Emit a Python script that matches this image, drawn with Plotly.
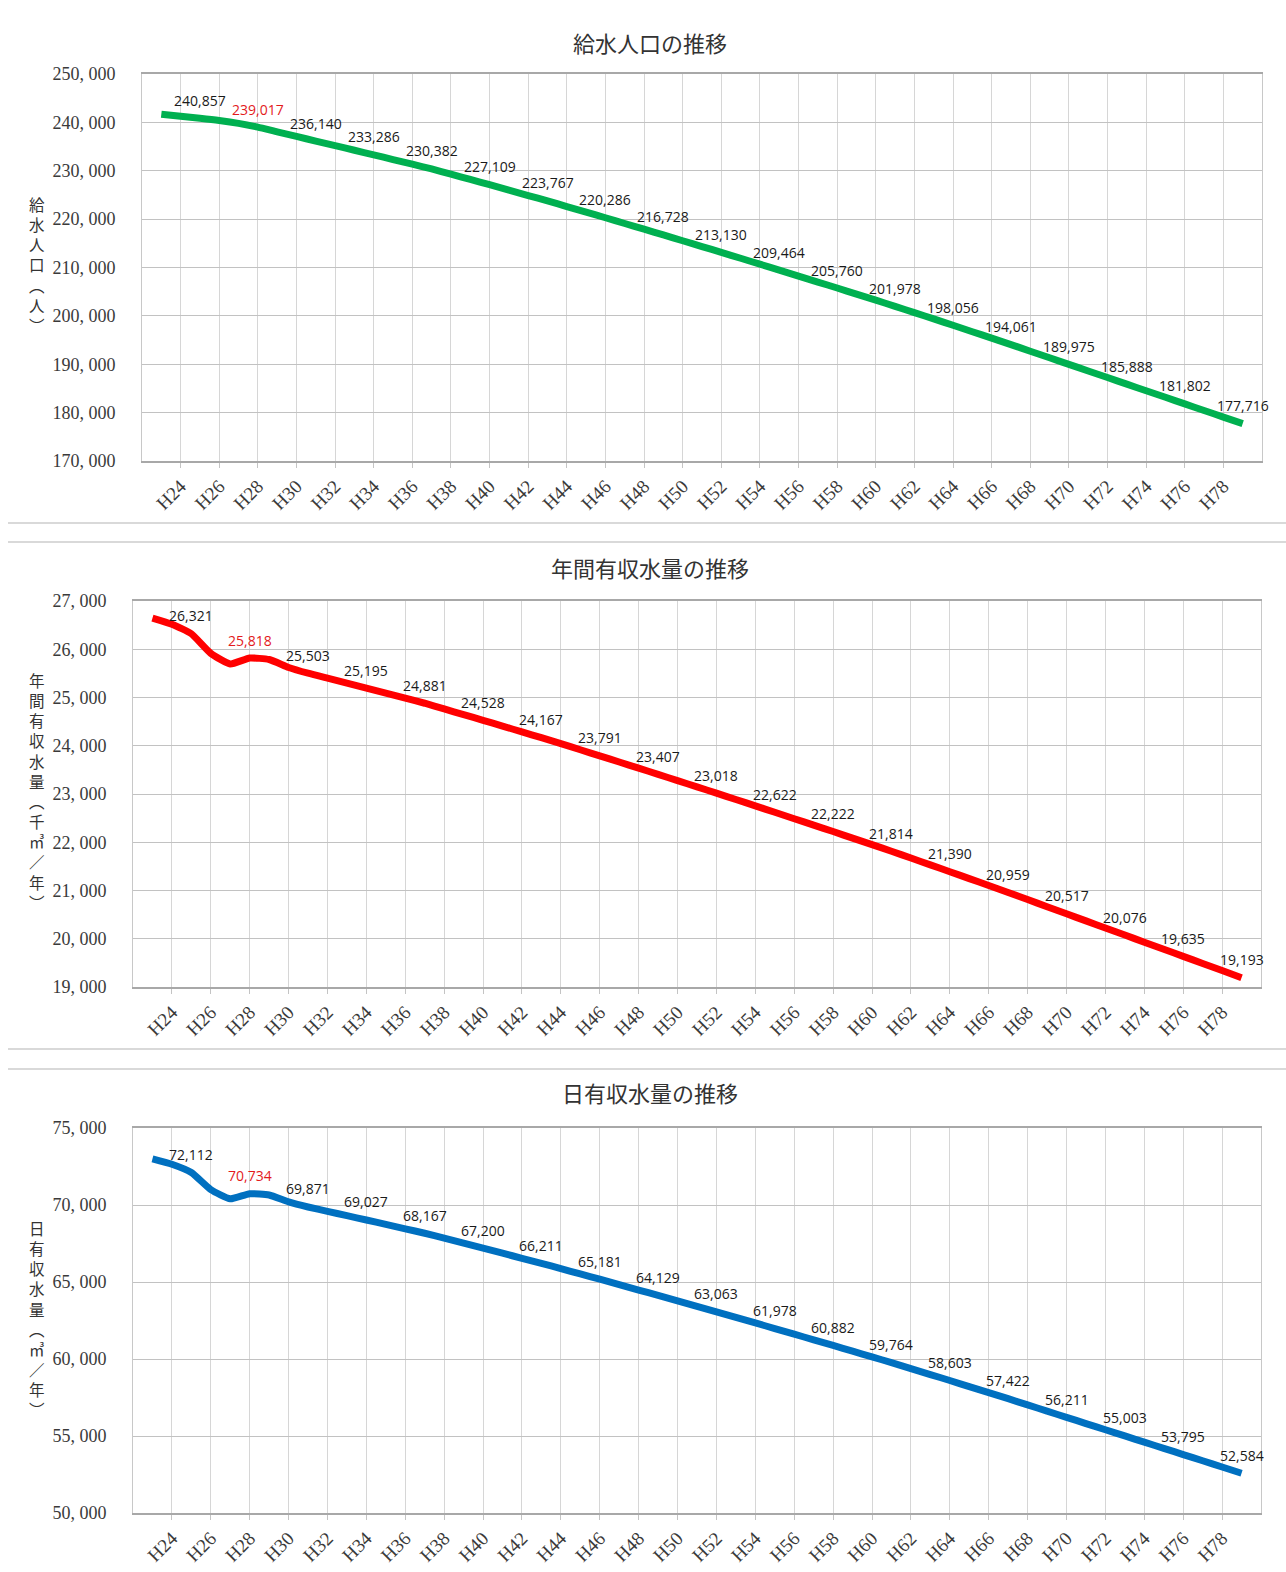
import plotly.graph_objects as go

# ---- data -------------------------------------------------------------
years = list(range(23, 80))  # H23 ... H79

# 給水人口 (人)
population = [
    241700, 241250, 240857, 240400, 239800, 239017, 238050, 237100, 236140,
    235190, 234240, 233286, 232320, 231350, 230382, 229290, 228200, 227109,
    225995, 224880, 223767, 222605, 221445, 220286, 219100, 217915, 216728,
    215530, 214330, 213130, 211910, 210685, 209464, 208230, 206995, 205760,
    204500, 203240, 201978, 200670, 199365, 198056, 196725, 195395, 194061,
    192700, 191335, 189975, 188612, 187250, 185888, 184525, 183165, 181802,
    180440, 179078, 177716,
]

# 年間有収水量 (千㎥/年)
annual_volume = [
    26645, 26517, 26321, 25915, 25696, 25818, 25787, 25623, 25503,
    25400, 25298, 25195, 25090, 24986, 24881, 24763, 24645, 24528,
    24408, 24287, 24167, 24043, 23917, 23791, 23663, 23535, 23407,
    23278, 23148, 23018, 22886, 22754, 22622, 22488, 22355, 22222,
    22086, 21950, 21814, 21673, 21531, 21390, 21247, 21103, 20959,
    20812, 20664, 20517, 20370, 20223, 20076, 19929, 19782, 19635,
    19488, 19341, 19193,
]

# 日有収水量 (㎥/年)
daily_volume = [
    73000, 72650, 72112, 71000, 70400, 70734, 70650, 70200, 69871,
    69590, 69310, 69027, 68740, 68455, 68167, 67845, 67520, 67200,
    66870, 66540, 66211, 65870, 65525, 65181, 64830, 64480, 64129,
    63775, 63420, 63063, 62700, 62340, 61978, 61612, 61247, 60882,
    60510, 60137, 59764, 59377, 58990, 58603, 58210, 57816, 57422,
    57018, 56615, 56211, 55808, 55406, 55003, 54600, 54198, 53795,
    53392, 52988, 52584,
]

label_years = list(range(25, 80, 3))   # years carrying a value label
highlight_year = 28                    # value label drawn in red

tick_years = list(range(24, 79, 2))
tick_text = [f"H{y}" for y in tick_years]

pop_ticks = list(range(170000, 250001, 10000))
annual_ticks = list(range(19000, 27001, 1000))
daily_ticks = list(range(50000, 75001, 5000))

# ---- page geometry (pixels) -------------------------------------------
W, H = 1286, 1572


def fx(px):
    return px / W


def fy(py):
    return 1 - py / H


def fmt_tick(v):
    return f"{v:,}".replace(",", ", ")


panels = [
    dict(title="給水人口の推移", title_y=42,
         ytitle="給水人口︵人︶", ytitle_y=264,
         values=population, color="#00b050", ticks=pop_ticks,
         left=142, right=1262, top=74, bottom=461),
    dict(title="年間有収水量の推移", title_y=567,
         ytitle="年間有収水量︵千㎥／年︶", ytitle_y=791,
         values=annual_volume, color="#ff0000", ticks=annual_ticks,
         left=133, right=1261, top=601, bottom=987),
    dict(title="日有収水量の推移", title_y=1092,
         ytitle="日有収水量︵㎥／年︶", ytitle_y=1318,
         values=daily_volume, color="#0070c0", ticks=daily_ticks,
         left=133, right=1261, top=1128, bottom=1513),
]

SERIF = "Liberation Serif, DejaVu Serif, serif"
CJK = "Noto Sans CJK JP, Noto Sans CJK SC, sans-serif"
LABEL_FONT = "Open Sans, Noto Sans, sans-serif"

fig = go.Figure()
annotations = []
layout_axes = {}

for i, p in enumerate(panels, start=1):
    xa = "x" if i == 1 else f"x{i}"
    ya = "y" if i == 1 else f"y{i}"
    xkey = "xaxis" if i == 1 else f"xaxis{i}"
    ykey = "yaxis" if i == 1 else f"yaxis{i}"

    fig.add_trace(go.Scatter(
        x=years, y=p["values"], mode="lines",
        line=dict(color=p["color"], width=7, shape="spline", smoothing=0.5),
        xaxis=xa, yaxis=ya, showlegend=False, hoverinfo="x+y",
    ))

    layout_axes[xkey] = dict(
        domain=[fx(p["left"]), fx(p["right"])], anchor=ya, automargin=False,
        range=[22, 80], tickmode="array", tickvals=tick_years, ticktext=tick_text,
        tickangle=-45, tickfont=dict(family=SERIF, size=19, color="#3a3a3a"),
        showgrid=True, gridcolor="#d6d6d6", gridwidth=1,
        showline=True, linecolor="#a8a8a8", linewidth=1.5, mirror=True,
        ticks="outside", ticklen=5, tickcolor="#c4c4c4",
        zeroline=False, fixedrange=True,
    )
    layout_axes[ykey] = dict(
        domain=[fy(p["bottom"]), fy(p["top"])], anchor=xa, automargin=False,
        range=[p["ticks"][0], p["ticks"][-1]], tickmode="array",
        tickvals=p["ticks"], ticktext=[fmt_tick(v) for v in p["ticks"]],
        tickfont=dict(family=SERIF, size=18, color="#3a3a3a"),
        showgrid=True, gridcolor="#c2c2c2", gridwidth=1,
        showline=True, linecolor="#c8c8c8", linewidth=1, mirror=True,
        ticks="", ticklabelstandoff=22, zeroline=False, fixedrange=True,
    )

    # chart title
    annotations.append(dict(
        xref="paper", yref="paper", x=fx(650), y=fy(p["title_y"]),
        text=p["title"], showarrow=False, xanchor="center", yanchor="middle",
        font=dict(family=CJK, size=22, color="#333333"),
    ))
    # vertical axis title, one character per line
    annotations.append(dict(
        xref="paper", yref="paper", x=fx(37), y=fy(p["ytitle_y"]),
        text="<br>".join(p["ytitle"]), showarrow=False,
        xanchor="center", yanchor="middle", align="center",
        font=dict(family=CJK, size=15.5, color="#333333"),
    ))
    # value labels
    for yr in label_years:
        v = p["values"][years.index(yr)]
        annotations.append(dict(
            xref=xa, yref=ya, x=yr, y=v, text=f"{v:,}", showarrow=False,
            xanchor="center", yanchor="middle", yshift=18,
            font=dict(family=LABEL_FONT, size=14,
                      color="#e31a1c" if yr == highlight_year else "#1a1a1a"),
        ))

# thin separators between the three charts
shapes = []
for sy in (523, 542, 1049, 1069):
    shapes.append(dict(
        type="line", xref="paper", yref="paper",
        x0=fx(8), x1=1, y0=fy(sy), y1=fy(sy),
        line=dict(color="#d9d9d9", width=2),
    ))

fig.update_layout(
    width=W, height=H, margin=dict(l=0, r=0, t=0, b=0, pad=0),
    paper_bgcolor="white", plot_bgcolor="white",
    annotations=annotations, shapes=shapes, showlegend=False,
    **layout_axes,
)

fig.write_html("out.html")
